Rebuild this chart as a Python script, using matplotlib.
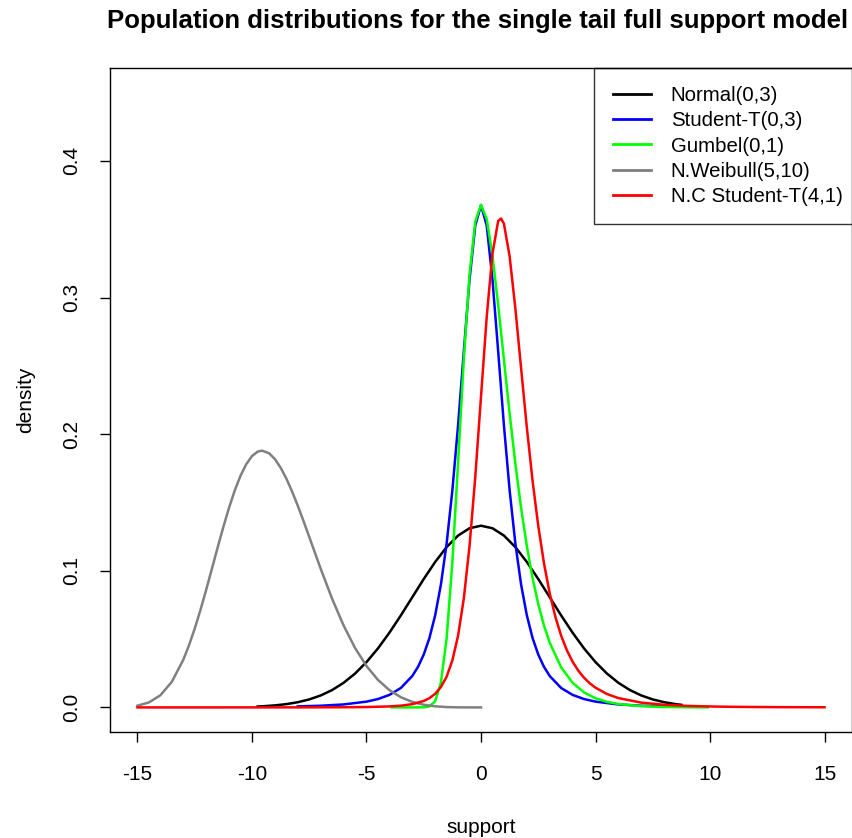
import matplotlib
matplotlib.use('Agg')
import matplotlib.pyplot as plt

plt.rcParams['font.family'] = ['Liberation Sans', 'DejaVu Sans']
plt.rcParams['axes.unicode_minus'] = False

# Normal(0,3)
normal_x = [-9.75, -9.5, -9, -8.5, -8, -7.5, -7, -6.5, -6, -5.5, -5, -4.5, -4, -3.5, -3, -2.5,
            -2, -1.5, -1, -0.5, 0, 0.5, 1, 1.5, 2, 2.5, 3, 3.5, 4, 4.5, 5, 5.5, 6, 6.5, 7,
            7.5, 8, 8.5, 8.75]
normal_y = [0.00068, 0.00088, 0.00148, 0.00240, 0.00380, 0.00584, 0.00874, 0.01272, 0.01800,
            0.02477, 0.03316, 0.04317, 0.05467, 0.06734, 0.08066, 0.09398, 0.10648, 0.11736,
            0.12579, 0.13115, 0.13298, 0.13115, 0.12579, 0.11736, 0.10648, 0.09398, 0.08066,
            0.06734, 0.05467, 0.04317, 0.03316, 0.02477, 0.01800, 0.01272, 0.00874, 0.00584,
            0.00380, 0.00240, 0.00189]

# Student-T(0,3)
t_x = [-8, -7, -6, -5, -4.5, -4, -3.5, -3, -2.75, -2.5, -2.25, -2, -1.75, -1.5, -1.25, -1,
       -0.75, -0.5, -0.25, 0, 0.25, 0.5, 0.75, 1, 1.25, 1.5, 1.75, 2, 2.25, 2.5, 2.75, 3,
       3.5, 4, 4.5, 5, 6, 7, 8]
t_y = [0.00074, 0.00122, 0.00217, 0.00422, 0.00612, 0.00916, 0.01422, 0.0230, 0.0297, 0.0387,
       0.0509, 0.0675, 0.0900, 0.1200, 0.1589, 0.2067, 0.2606, 0.3132, 0.3527, 0.3676, 0.3527,
       0.3132, 0.2606, 0.2067, 0.1589, 0.1200, 0.0900, 0.0675, 0.0509, 0.0387, 0.0297, 0.0230,
       0.01422, 0.00916, 0.00612, 0.00422, 0.00217, 0.00122, 0.00074]

# Gumbel(0,1)
gumbel_x = [-3.9, -3, -2.5, -2.25, -2, -1.75, -1.5, -1.25, -1, -0.75, -0.5, -0.25, 0, 0.25,
            0.5, 0.75, 1, 1.25, 1.5, 1.75, 2, 2.25, 2.5, 2.75, 3, 3.5, 4, 4.5, 5, 5.5, 6, 7,
            8, 9, 9.9]
gumbel_y = [0, 0, 0.00006, 0.00072, 0.00457, 0.01823, 0.05070, 0.10642, 0.17937, 0.25489,
            0.31704, 0.35557, 0.36788, 0.35743, 0.33070, 0.29452, 0.25464, 0.21514, 0.17847,
            0.14603, 0.11820, 0.09485, 0.07562, 0.05997, 0.04737, 0.02930, 0.01798, 0.01099,
            0.00669, 0.00407, 0.00247, 0.00091, 0.00034, 0.00012, 0.00005]

# N.Weibull(5,10)
weib_x = [-15, -14.5, -14, -13.5, -13, -12.75, -12.5, -12.25, -12, -11.75, -11.5, -11.25, -11,
          -10.75, -10.5, -10.25, -10, -9.75, -9.56, -9.25, -9, -8.75, -8.5, -8.25, -8, -7.75,
          -7.5, -7, -6.5, -6, -5.5, -5, -4.5, -4, -3.5, -3, -2.5, -2, -1.5, -1, -0.5, 0]
weib_y = [0.00127, 0.00364, 0.00887, 0.01875, 0.03485, 0.04545, 0.05770, 0.07134, 0.08610,
          0.10150, 0.11703, 0.13212, 0.14626, 0.15890, 0.16960, 0.17804, 0.18394, 0.18723,
          0.18794, 0.18598, 0.18176, 0.17549, 0.16747, 0.15806, 0.14758, 0.13639, 0.12479,
          0.10148, 0.07948, 0.05995, 0.04351, 0.03029, 0.02013, 0.01267, 0.00746, 0.00404,
          0.00195, 0.0008, 0.00025, 0.00005, 0, 0]

# N.C Student-T(4,1)
nct_x = [-15, -12, -10, -8, -6, -5, -4, -3.5, -3, -2.5, -2.25, -2, -1.75, -1.5, -1.25, -1,
         -0.75, -0.5, -0.25, 0, 0.25, 0.5, 0.75, 0.875, 1, 1.25, 1.5, 1.75, 2, 2.25, 2.5,
         2.75, 3, 3.25, 3.5, 3.75, 4, 4.25, 4.5, 4.75, 5, 5.5, 6, 7, 8, 9, 10, 11, 12, 13,
         14, 15]
nct_y = [0.00000, 0.00000, 0.00001, 0.00003, 0.00012, 0.00027, 0.00072, 0.00127, 0.00237,
         0.00470, 0.00680, 0.00999, 0.01491, 0.02255, 0.03441, 0.05262, 0.07978, 0.11827,
         0.16866, 0.22745, 0.28593, 0.33215, 0.35604, 0.3578, 0.35411, 0.33014, 0.29211,
         0.24835, 0.20513, 0.16612, 0.13286, 0.10552, 0.08356, 0.06616, 0.05250, 0.04180,
         0.03343, 0.02687, 0.02172, 0.01765, 0.01443, 0.00981, 0.00681, 0.00349, 0.00191,
         0.00111, 0.00068, 0.00043, 0.00029, 0.00019, 0.00014, 0.00010]

labels = ['Normal(0,3)', 'Student-T(0,3)', 'Gumbel(0,1)', 'N.Weibull(5,10)', 'N.C Student-T(4,1)']
colors = ['black', '#0000FF', '#00FF00', '#808080', '#FF0000']

fig = plt.figure(figsize=(8.52, 8.38), dpi=100)
ax = fig.add_axes([110 / 852, 106 / 838, 742 / 852, 664 / 838])

series = [(normal_x, normal_y), (t_x, t_y), (gumbel_x, gumbel_y), (weib_x, weib_y), (nct_x, nct_y)]
for (xx, yy), c, lab in zip(series, colors, labels):
    ax.plot(xx, yy, color=c, lw=1.8, label=lab, solid_joinstyle='round')

ax.set_xlim(-16.2, 16.2)
ax.set_ylim(-0.018, 0.468)
ax.set_xticks([-15, -10, -5, 0, 5, 10, 15])
ax.set_yticks([0.0, 0.1, 0.2, 0.3, 0.4])
ax.set_yticklabels(['0.0', '0.1', '0.2', '0.3', '0.4'], rotation=90, va='center')
ax.tick_params(axis='both', direction='out', length=7, width=1, labelsize=15, colors='black')
ax.tick_params(axis='x', pad=17)
ax.tick_params(axis='y', pad=14)
for sp in ax.spines.values():
    sp.set_linewidth(1)
    sp.set_color('black')
    sp.set_zorder(5)

ax.set_xlabel('support', fontsize=15, labelpad=24)
ax.set_ylabel('density', fontsize=15, labelpad=19)

fig.text(478 / 852, 1 - 21 / 838, 'Population distributions for the single tail full support model',
         ha='center', va='center', fontsize=18.5, fontweight='bold')

leg = ax.legend(loc='upper right', bbox_to_anchor=(1.0 + 9 / 742, 1.0), borderaxespad=0,
                fontsize=14.7, frameon=True, fancybox=False, edgecolor='black',
                handlelength=1.9, handletextpad=0.95, labelspacing=0.3, borderpad=0.9)
leg.get_frame().set_linewidth(1)
leg.set_zorder(4)
for line in leg.get_lines():
    line.set_linewidth(2)

fig.savefig('out.png', dpi=100)
